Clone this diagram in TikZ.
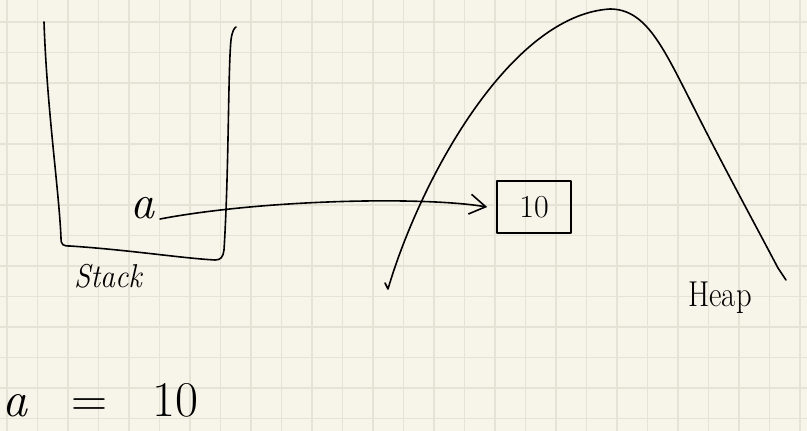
\documentclass[tikz,border=0pt]{standalone}
\usepackage{fontspec}
\usepackage{xcolor}
\usetikzlibrary{arrows.meta}

\definecolor{paper}{HTML}{F7F5EA}
\definecolor{gridline}{HTML}{E5E2D6}

\begin{document}
\begin{tikzpicture}[x=1pt, y=-1pt,
    ink/.style={line width=1.6pt, line cap=round, line join=round},
    word/.style={inner sep=0pt}]

    % ==========================================
    % Paper and grid
    % ==========================================
    \fill[paper] (0,0) rectangle (807,431);
    \useasboundingbox (0,0) rectangle (807,431);
    \foreach \gx in {7,37.5,...,801}
        \draw[gridline, line width=1.3pt] (\gx,0) -- (\gx,431);
    \foreach \gy in {22,52.5,...,430}
        \draw[gridline, line width=1.3pt] (0,\gy) -- (807,\gy);

    % ==========================================
    % Stack
    % ==========================================
    \draw[ink] (44,22) .. controls (47,110) and (59,190) .. (61,238)
        .. controls (61,245) and (63,246) .. (70,246)
        .. controls (130,250) and (180,258) .. (215,260)
        .. controls (221,260) and (223,257) .. (224,250)
        .. controls (229,170) and (228,70) .. (231,40)
        .. controls (232,32) and (234,28) .. (236,27);
    \node[word, font=\fontsize{48}{50}\selectfont\itshape] (a) at (142,208) {a};
    \node[word, font=\fontsize{33}{35}\selectfont\itshape, xscale=0.9] (stack) at (108,276) {Stack};

    % ==========================================
    % Heap
    % ==========================================
    \draw[ink] (385,283) -- (388,289)
        .. controls (420,180) and (510,15) .. (610,9)
        .. controls (645,9) and (662,45) .. (690,100)
        .. controls (720,160) and (750,215) .. (778,268)
        -- (786,280);
    \node[word, font=\fontsize{36}{38}\selectfont, xscale=0.85] (heap) at (720,298) {Heap};

    % value box on the heap
    \node[draw, ink, minimum width=74pt, minimum height=52pt,
          font=\fontsize{32}{34}\selectfont] (val) at (534,207) {10};

    % pointer from a to the box
    \draw[ink, -{Straight Barb[length=16pt, width=20pt]}]
        (160,219) .. controls (260,200) and (420,196) .. ([xshift=-9pt]val.west);

    % ==========================================
    % Assignment
    % ==========================================
    \node[word, font=\fontsize{50}{52}\selectfont, anchor=west] (eq) at (2,400)
        {\itshape a\upshape\hspace{44pt}=\hspace{45pt}10};

\end{tikzpicture}
\end{document}
